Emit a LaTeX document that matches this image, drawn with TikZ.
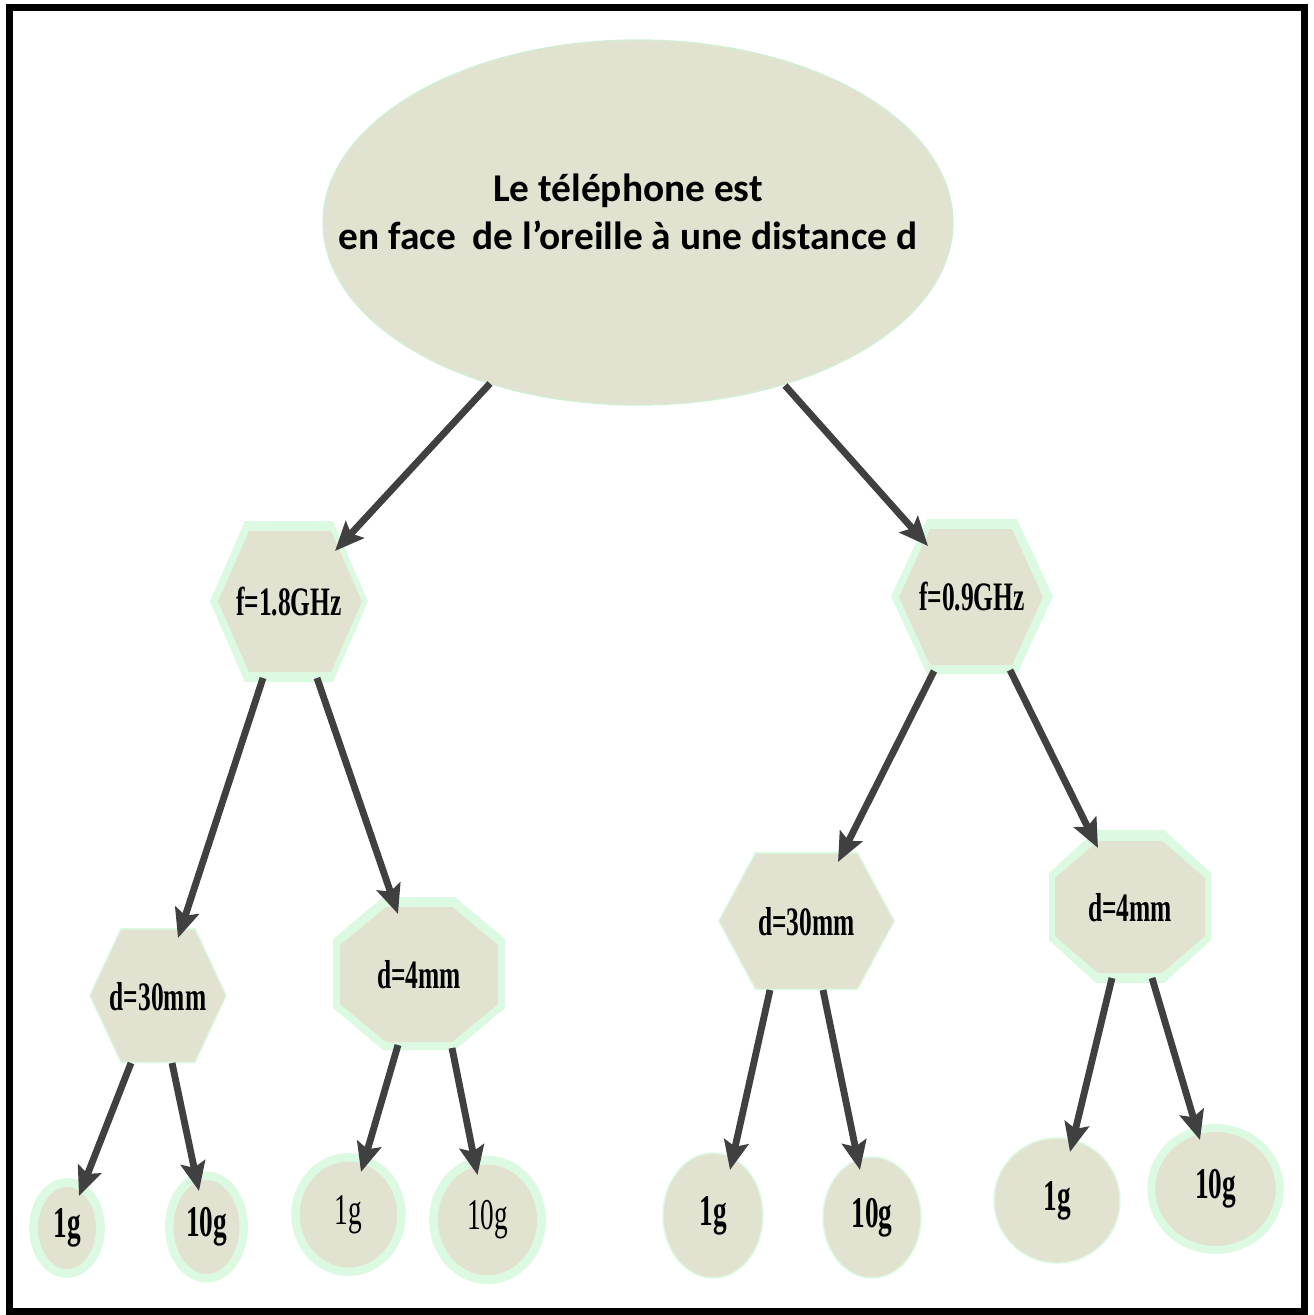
\documentclass[tikz,border=0pt]{standalone}
\usepackage{fontspec}
\usetikzlibrary{arrows.meta,calc,shapes.geometric}
\newfontfamily\carl{Carlito}
\newfontfamily\tnrA[FakeStretch=0.63]{Liberation Serif}
\newfontfamily\tnrB[FakeStretch=0.62]{Liberation Serif}
\definecolor{beige}{RGB}{226,226,208}
\definecolor{ring}{RGB}{220,250,226}
\definecolor{ellring}{RGB}{210,238,212}
\definecolor{arrowgray}{RGB}{64,64,64}
\pgfdeclarelayer{bg}
\pgfsetlayers{bg,main}
% hexagon: cx cy halfwidth halfheight chamfer colour
\newcommand\hexshape[6]{\fill[#6] ({#1-#3},{#2}) -- ({#1-#3+#5},{#2-#4}) -- ({#1+#3-#5},{#2-#4}) -- ({#1+#3},{#2}) -- ({#1+#3-#5},{#2+#4}) -- ({#1-#3+#5},{#2+#4}) -- cycle;}
% octagon: cx cy halfwidth halfheight chamferx chamfery colour
\newcommand\octshape[7]{\fill[#7] ({#1-#3},{#2-#4+#6}) -- ({#1-#3+#5},{#2-#4}) -- ({#1+#3-#5},{#2-#4}) -- ({#1+#3},{#2-#4+#6}) -- ({#1+#3},{#2+#4-#6}) -- ({#1+#3-#5},{#2+#4}) -- ({#1-#3+#5},{#2+#4}) -- ({#1-#3},{#2+#4-#6}) -- cycle;}
\begin{document}
\begin{tikzpicture}[x=0.02cm,y=-0.02cm,
  conn/.style={draw=arrowgray, line width=3.9pt, -{Stealth[length=16.5pt,width=14pt,inset=3pt]}},
  ptext/.style={font=\tnrA\bfseries\fontsize{23}{26}\selectfont, inner sep=0pt},
  cnode/.style={ellipse, fill=beige, draw=ring, inner sep=0pt, font=\tnrB\bfseries\fontsize{25}{29}\selectfont},
  clight/.style={cnode, font=\tnrB\fontsize{25}{29}\selectfont}]
\useasboundingbox (0,0) rectangle (1314,1315);

% polygon shapes (background layer)
\begin{pgfonlayer}{bg}
\fill[white] (0,0) rectangle (1314,1315);
\hexshape{289}{601.5}{79}{80.5}{35}{ring}
\hexshape{290}{601.5}{72}{70.5}{31}{beige}
\hexshape{972}{596.5}{81}{77.5}{36}{ring}
\hexshape{971}{597}{72}{68}{31}{beige}
\hexshape{806.5}{921}{88.5}{69}{37}{ring}
\hexshape{806.5}{921}{87}{67.5}{36.5}{beige}
\hexshape{158}{995.5}{69}{67.5}{31.5}{ring}
\hexshape{158}{995.5}{67.5}{66}{31}{beige}
\octshape{419}{973.5}{86}{76.5}{50}{42}{ring}
\octshape{419}{974.5}{79}{67.5}{46}{38}{beige}
\octshape{1130}{906.5}{81}{76.5}{47}{43}{ring}
\octshape{1130}{907}{75}{66}{43}{37}{beige}
\end{pgfonlayer}

% frame
\draw[line width=3.97pt] (9.5,7.5) rectangle (1304.5,1311.5);

% top ellipse
\node[ellipse, draw=ellring, fill=beige, line width=0.8pt, minimum width=12.6cm, minimum height=7.3cm, inner sep=0pt] (top) at (638,222.5) {};
\node[font=\carl\bfseries\fontsize{22.4}{27.2}\selectfont, align=center, inner sep=0pt] (toptext) at (628,212) {Le téléphone est\\en face\hspace{0.42em}de l’oreille à une distance d};

\node[ptext] (A) at (289,602) {f=1.8GHz};
\node[ptext] (B) at (972,597) {f=0.9GHz};
\node[ptext] (C) at (806.5,922) {d=30mm};
\node[ptext] (F) at (158,997) {d=30mm};
\node[ptext] (E) at (419,974.5) {d=4mm};
\node[ptext] (D) at (1130,908) {d=4mm};

% leaves
\node[cnode, line width=5pt, minimum width=1.34cm, minimum height=1.82cm] (G1) at (67,1228) {1g};
\node[cnode, line width=4.8pt, minimum width=1.49cm, minimum height=2.05cm] (G2) at (206.5,1227) {10g};
\node[clight, line width=4.8pt, minimum width=2.12cm, minimum height=2.29cm] (G3) at (348.5,1214.5) {1g};
\node[clight, line width=5pt, minimum width=2.16cm, minimum height=2.39cm] (G4) at (487.5,1220) {10g};
\node[cnode, line width=0.8pt, minimum width=2.0cm, minimum height=2.5cm] (G5) at (713,1215.5) {1g};
\node[cnode, line width=0.8pt, minimum width=1.96cm, minimum height=2.42cm] (G6) at (872,1217.5) {10g};
\node[cnode, line width=0.8pt, minimum width=2.52cm, minimum height=2.5cm] (G7) at (1057,1200.5) {1g};
\node[cnode, line width=4.5pt, minimum width=2.57cm, minimum height=2.44cm] (G8) at (1215.5,1189) {10g};

% connectors
\draw[conn] ($(top.center)+(-148,161)$) -- ($(A.center)+(46,-51)$);
\draw[conn] ($(top.center)+(147,163)$) -- ($(B.center)+(-44,-51)$);
\draw[conn] ($(A.center)+(-26,76)$) -- ($(F.center)+(20,-59)$);
\draw[conn] ($(A.center)+(28,76)$) -- ($(E.center)+(-21,-60.5)$);
\draw[conn] ($(B.center)+(-38,74)$) -- ($(C.center)+(31.5,-60)$);
\draw[conn] ($(B.center)+(38,73)$) -- ($(D.center)+(-32,-60)$);
\draw[conn] ($(F.center)+(-27,66)$) -- ($(G1.center)+(12,-32)$);
\draw[conn] ($(F.center)+(14,66)$) -- ($(G2.center)+(-7.5,-36)$);
\draw[conn] ($(E.center)+(-21,70.5)$) -- ($(G3.center)+(12.5,-42.5)$);
\draw[conn] ($(E.center)+(33,73.5)$) -- ($(G4.center)+(-10,-45)$);
\draw[conn] ($(C.center)+(-36.5,68)$) -- ($(G5.center)+(17,-45.5)$);
\draw[conn] ($(C.center)+(16.5,68)$) -- ($(G6.center)+(-12,-47.5)$);
\draw[conn] ($(D.center)+(-18,70)$) -- ($(G7.center)+(13,-48.5)$);
\draw[conn] ($(D.center)+(22,70)$) -- ($(G8.center)+(-15.5,-49)$);
\end{tikzpicture}
\end{document}
